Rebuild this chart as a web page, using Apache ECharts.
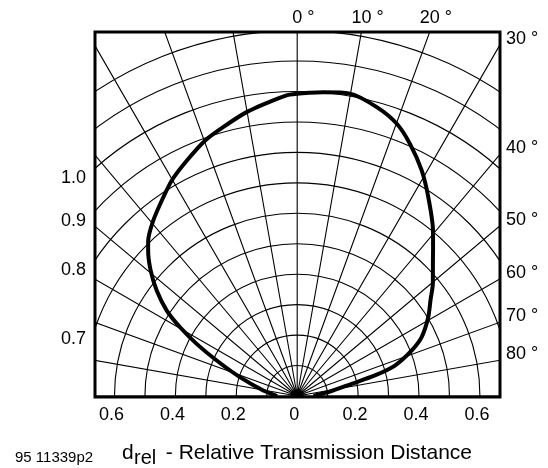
<!DOCTYPE html>
<html><head><meta charset="utf-8">
<script src="https://cdn.jsdelivr.net/npm/echarts@6/dist/echarts.min.js"></script>
<style>html,body{margin:0;padding:0;background:#fff}#c{width:548px;height:468px}</style>
</head><body><div id="c"></div>
<script>
// ---- data (angle in degrees from the 0° axis, relative transmission distance) ----
const curveAngles = [-90, -88.6, -80.8, -71.8, -66.2, -62.6, -59.6, -56.8, -53.1, -49.4, -45.7, -43.8, -39.4, -34.7, -30.2, -25.1, -19.8, -15.4, -10.1, -3.9, -1.4, 2.4, 4.9, 9.9, 15.4, 20.1, 24.1, 28.9, 33.4, 39.3, 42.7, 45.3, 50.2, 54.2, 59.0, 64.7, 68.3, 72.7, 75.2, 77.4, 83.0, 88.4, 90];
const curveRadii  = [0.068, 0.07, 0.113, 0.198, 0.289, 0.372, 0.446, 0.512, 0.577, 0.634, 0.684, 0.707, 0.745, 0.781, 0.819, 0.854, 0.892, 0.916, 0.947, 0.978, 0.99, 0.997, 1.001, 1.008, 0.984, 0.952, 0.907, 0.846, 0.782, 0.704, 0.658, 0.627, 0.580, 0.540, 0.502, 0.452, 0.405, 0.336, 0.264, 0.183, 0.103, 0.058, 0.055];
const bottomTickValues = [-0.6, -0.4, -0.2, 0, 0.2, 0.4, 0.6];
const bottomTickLabels = ['0.6', '0.4', '0.2', '0', '0.2', '0.4', '0.6'];
const topAngleTicks = [0, 10, 20];
const rightAngleTicks = [30, 40, 50, 60, 70, 80];
const leftCircleTicks = [1.0, 0.9, 0.8, 0.7];
const leftCircleLabels = ['1.0', '0.9', '0.8', '0.7'];
const figureCode = '95 11339p2';
const axisTitleMain = 'd';
const axisTitleSub = 'rel';
const axisTitleRest = ' - Relative Transmission Distance';

// ---- layout ----
const CX = 297.2, CY = 396, S = 304.5;          // pole position, px per unit
const BOX = { l: 95, r: 500, t: 32, b: 397 };
const FONT = '"Liberation Sans", Arial, Helvetica, sans-serif';
const FS = 18;
const W = 548, H = 468;

const chart = echarts.init(document.getElementById('c'), null, { renderer: 'canvas' });

const curveData = curveAngles.map((a, i) => [curveRadii[i], a]);

const graphics = [];
const maskStyle = { fill: '#fff' };
graphics.push({ type: 'rect', z: 50, shape: { x: 0, y: 0, width: W, height: BOX.t }, style: maskStyle, silent: true });
graphics.push({ type: 'rect', z: 50, shape: { x: 0, y: BOX.b, width: W, height: H - BOX.b }, style: maskStyle, silent: true });
graphics.push({ type: 'rect', z: 50, shape: { x: 0, y: 0, width: BOX.l, height: H }, style: maskStyle, silent: true });
graphics.push({ type: 'rect', z: 50, shape: { x: BOX.r, y: 0, width: W - BOX.r, height: H }, style: maskStyle, silent: true });
graphics.push({ type: 'rect', z: 55, shape: { x: BOX.l, y: BOX.t, width: BOX.r - BOX.l, height: BOX.b - BOX.t },
  style: { fill: null, stroke: '#000', lineWidth: 3 }, silent: true });

function txt(text, x, y, align, size) {
  return { type: 'text', z: 60, x: x, y: y, silent: true,
    style: { text: text, fill: '#000', font: (size || FS) + 'px ' + FONT, align: align || 'center', verticalAlign: 'middle' } };
}
const digitW = 0.556 * FS;
bottomTickValues.forEach((v, i) => {
  graphics.push(txt(bottomTickLabels[i], CX + v * S - 3, 415, 'center'));
});
topAngleTicks.forEach(a => {
  const lx = CX + (CY - BOX.t) * Math.tan(a * Math.PI / 180);
  const n = String(a).length;
  graphics.push(txt(a + ' °', lx - n * digitW / 2, 18.5, 'left'));
});
rightAngleTicks.forEach(a => {
  const ly = CY - (BOX.r - CX) / Math.tan(a * Math.PI / 180);
  graphics.push(txt(a + ' °', BOX.r + 6, ly - 6, 'left'));
});
const halfW = (CX - BOX.l) / S;
leftCircleTicks.forEach((r, i) => {
  const ly = CY - Math.sqrt(r * r - halfW * halfW) * S;
  graphics.push(txt(leftCircleLabels[i], BOX.l - 9, ly + 10, 'right'));
});
graphics.push(txt(figureCode, 15, 458, 'left', 15));
graphics.push(txt(axisTitleMain, 122, 453, 'left', 21));
graphics.push(txt(axisTitleSub, 134, 458, 'left', 20));
graphics.push(txt(axisTitleRest, 160, 453, 'left', 21));

const hiddenAxisParts = { axisLine: { show: false }, axisTick: { show: false }, axisLabel: { show: false } };

chart.setOption({
  animation: false,
  backgroundColor: '#fff',
  polar: [
    { center: [CX, CY], radius: 1.2 * S },
    { center: [CX, CY], radius: 1.45 * S }
  ],
  radiusAxis: [
    Object.assign({ polarIndex: 0, type: 'value', min: 0, max: 1.2, interval: 0.1,
      splitLine: { show: true, lineStyle: { color: '#000', width: 1.1 } } }, hiddenAxisParts),
    Object.assign({ polarIndex: 1, type: 'value', min: 0, max: 1.45, splitLine: { show: false } }, hiddenAxisParts)
  ],
  angleAxis: [
    Object.assign({ polarIndex: 0, type: 'value', min: -180, max: 180, interval: 10, startAngle: 270, clockwise: true,
      splitLine: { show: false } }, hiddenAxisParts),
    Object.assign({ polarIndex: 1, type: 'value', min: -180, max: 180, interval: 10, startAngle: 270, clockwise: true,
      splitLine: { show: true, lineStyle: { color: '#000', width: 1.1 } } }, hiddenAxisParts)
  ],
  series: [{
    type: 'line',
    coordinateSystem: 'polar',
    polarIndex: 0,
    data: curveData,
    showSymbol: false,
    smooth: 0.25,
    lineStyle: { color: '#000', width: 4 },
    z: 10
  }],
  graphic: { elements: graphics }
});
</script>
</body></html>
